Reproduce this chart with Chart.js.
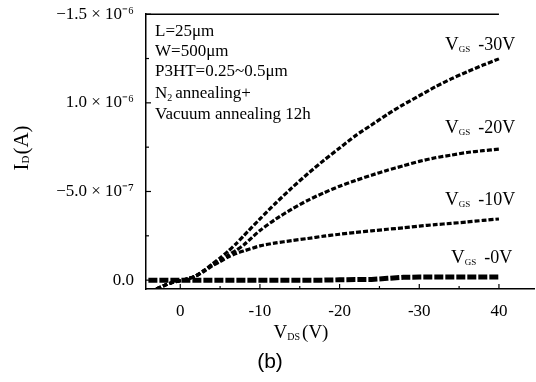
<!DOCTYPE html>
<html>
<head>
<meta charset="utf-8">
<script src="https://cdn.jsdelivr.net/npm/chart.js@4/dist/chart.umd.min.js"></script>
<style>
html,body{margin:0;padding:0;background:#fff;}
#wrap{width:536px;height:382px;position:relative;}
</style>
</head>
<body>
<div id="wrap"><canvas id="c" width="536" height="382"></canvas></div>
<script>
// Drain-source voltage (V, magnitude) and drain current (units of 1e-6 A, magnitude)
const vds = [-3,-2,-1,0,1,2,3,4,5,6,7,8,10,12,14,16,18,20,22,24,26,28,30,32,34,36,38,40];
const id30 = [-0.05,-0.03,-0.013,-0.003,0.008,0.025,0.055,0.09,0.125,0.163,0.205,0.252,0.345,0.435,0.52,0.6,0.675,0.745,0.815,0.875,0.935,0.99,1.04,1.09,1.135,1.175,1.213,1.248];
const id20 = [-0.05,-0.03,-0.013,-0.003,0.008,0.025,0.055,0.085,0.11,0.14,0.168,0.2,0.28,0.345,0.4,0.45,0.492,0.53,0.562,0.592,0.62,0.645,0.67,0.69,0.705,0.72,0.73,0.739];
const id10 = [-0.05,-0.03,-0.013,-0.003,0.008,0.025,0.05,0.08,0.105,0.13,0.15,0.165,0.193,0.21,0.223,0.235,0.248,0.259,0.269,0.278,0.287,0.295,0.305,0.313,0.32,0.328,0.337,0.345];
const vds0 = [-4,-2,0,2,4,6,8,10,12,14,16,18,20,22,24,26,28,30,32,34,36,38,40];
const id0  = [0,0,0,0,0,0,0,0,0,0,0,0,0.002,0.003,0.004,0.01,0.016,0.017,0.017,0.017,0.017,0.017,0.018];

const xTickVals = [0,5,10,15,20,25,30,35,40];
const xTickLabels = {0:'0',10:'-10',20:'-20',30:'-30',40:'40'};
const yTickVals = [0,0.25,0.5,0.75,1.0,1.25,1.5];
const yTickLabels = {0:'0.0',0.5:'−5.0 × 10⁻⁷',1:'1.0 × 10⁻⁶',1.5:'−1.5 × 10⁻⁶'};
const curveLabels = [
  {v:30, txt:'-30V', ly:45},
  {v:20, txt:'-20V', ly:128},
  {v:10, txt:'-10V', ly:200},
  {v:0,  txt:'-0V',  ly:258}
];
const infoLines = ['L=25μm','W=500μm','P3HT=0.25~0.5μm','N₂ annealing+','Vacuum annealing 12h'];

function pts(xs, ys){ return xs.map((x,i)=>({x:x, y:ys[i]})); }
const SERIF = '"Liberation Serif","Times New Roman",serif';

function drawParts(ctx, x, y, parts, align){
  let w = 0;
  parts.forEach(p=>{ ctx.font = p.size+'px '+SERIF; w += ctx.measureText(p.t).width + (p.gap||0); });
  let cx = align==='center' ? x - w/2 : x;
  ctx.textBaseline = 'middle';
  ctx.textAlign = 'left';
  parts.forEach(p=>{
    ctx.font = p.size+'px '+SERIF;
    ctx.fillText(p.t, cx, y + (p.dy||0));
    cx += ctx.measureText(p.t).width + (p.gap||0);
  });
}

const deco = {
  id:'deco',
  afterDraw(chart){
    const ctx = chart.ctx, xs = chart.scales.x, ys = chart.scales.y, a = chart.chartArea;
    ctx.save();
    ctx.strokeStyle = '#000'; ctx.fillStyle = '#000';
    ctx.lineWidth = 1.5;
    ctx.beginPath(); ctx.moveTo(a.left, a.top); ctx.lineTo(xs.getPixelForValue(40), a.top); ctx.stroke();
    ctx.lineWidth = 1.2;
    xTickVals.forEach(v=>{
      const px = xs.getPixelForValue(v), len = (v%10===0)?5:3;
      ctx.beginPath(); ctx.moveTo(px, a.bottom); ctx.lineTo(px, a.bottom-len); ctx.stroke();
    });
    yTickVals.forEach(v=>{
      const py = ys.getPixelForValue(v), len = (Math.abs(v*2-Math.round(v*2))<1e-6)?5:3;
      ctx.beginPath(); ctx.moveTo(a.left, py); ctx.lineTo(a.left+len, py); ctx.stroke();
    });
    ctx.save();
    ctx.translate(22, 148); ctx.rotate(-Math.PI/2);
    drawParts(ctx, 0, 0, [{t:'I',size:21},{t:'D',size:11,dy:4,gap:1},{t:'(A)',size:21}], 'center');
    ctx.restore();
    drawParts(ctx, 301, 333, [{t:'V',size:19},{t:'DS',size:10,dy:4,gap:2},{t:'(V)',size:19}], 'center');
    infoLines.forEach((t,i)=>{
      const y = [32,52,72,94,115][i];
      if (t.indexOf('₂')>=0){
        drawParts(ctx, 155, y, [{t:'N',size:17},{t:'2',size:10,dy:4,gap:3},{t:'annealing+',size:17}], 'left');
      } else {
        drawParts(ctx, 155, y, [{t:t,size:17}], 'left');
      }
    });
    curveLabels.forEach(c=>{
      drawParts(ctx, c.v===0?451:445, c.ly, [{t:'V',size:19},{t:'GS',size:9,dy:5,gap:8},{t:c.txt,size:18}], 'left');
    });
    ctx.font = '21px "Liberation Sans",Arial,sans-serif';
    ctx.textAlign = 'center'; ctx.textBaseline = 'middle';
    ctx.fillText('(b)', 270, 362);
    ctx.restore();
  }
};

const common = {showLine:true, pointRadius:0, borderColor:'#000', backgroundColor:'#000', borderDash:[5,2], tension:0.25};
new Chart(document.getElementById('c'), {
  type:'scatter',
  data:{datasets:[
    Object.assign({label:'VGS -30V', data:pts(vds,id30), borderWidth:3.2}, common),
    Object.assign({label:'VGS -20V', data:pts(vds,id20), borderWidth:3.2}, common),
    Object.assign({label:'VGS -10V', data:pts(vds,id10), borderWidth:3.2}, common),
    Object.assign({label:'VGS -0V',  data:pts(vds0,id0), borderWidth:5, borderDash:[9,2]}, {showLine:true,pointRadius:0,borderColor:'#000'})
  ]},
  options:{
    responsive:false, animation:false,
    layout:{padding:{top:12,right:2,left:0,bottom:0}},
    plugins:{legend:{display:false}, tooltip:{enabled:false}},
    scales:{
      x:{
        type:'linear', min:-4.3, max:44.4,
        grid:{display:false},
        border:{display:true,color:'#000',width:1.5},
        afterBuildTicks(s){ s.ticks = xTickVals.map(v=>({value:v})); },
        afterFit(s){ s.height = 93; },
        ticks:{padding:4, color:'#000', maxRotation:0, autoSkip:false,
          font:{family:SERIF,size:17},
          callback(v){ return xTickLabels[v]!==undefined ? xTickLabels[v] : ''; }}
      },
      y:{
        type:'linear', min:-0.05, max:1.5,
        grid:{display:false},
        border:{display:true,color:'#000',width:1.5},
        afterBuildTicks(s){ s.ticks = yTickVals.map(v=>({value:v})); },
        afterFit(s){ s.width = 146; },
        ticks:{padding:4, color:'#000', autoSkip:false,
          font:{family:SERIF,size:17},
          callback(v){ return yTickLabels[v]!==undefined ? yTickLabels[v] : ''; }}
      }
    }
  },
  plugins:[deco]
});
</script>
</body>
</html>
